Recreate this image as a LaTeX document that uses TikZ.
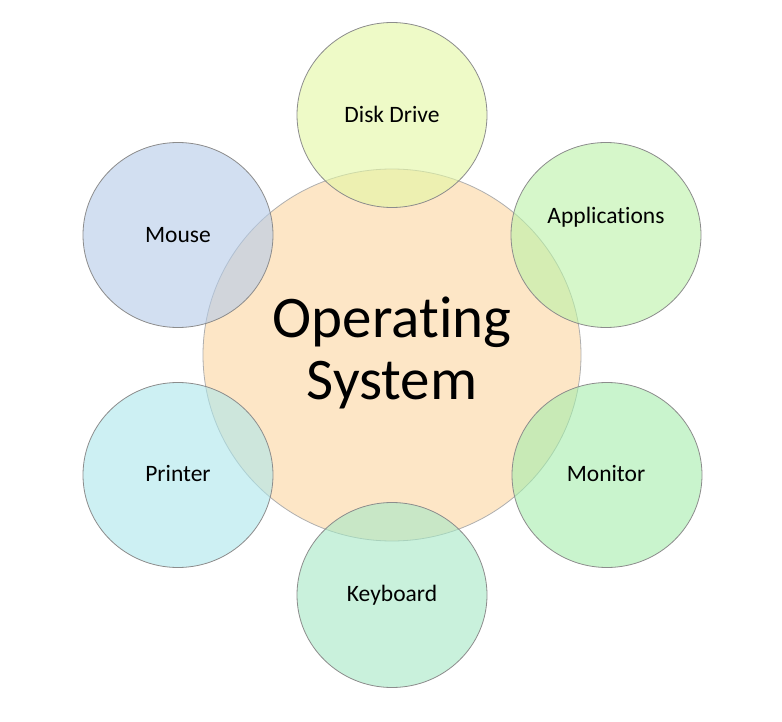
\documentclass[tikz,border=0pt]{standalone}
\usepackage{fontspec}
\setmainfont{Carlito}[Ligatures=NoCommon]
\usetikzlibrary{shapes.geometric}
\definecolor{osfill}{RGB}{253,230,198}
\definecolor{diskc}{RGB}{227,247,163}
\definecolor{appc}{RGB}{187,243,167}
\definecolor{monc}{RGB}{165,238,172}
\definecolor{keyc}{RGB}{165,233,198}
\definecolor{prnc}{RGB}{173,230,235}
\definecolor{mouc}{RGB}{180,203,233}
\definecolor{rimc}{RGB}{140,140,140}
\tikzset{
  sat/.style={ellipse, draw=rimc, line width=0.8pt, fill opacity=0.6, text opacity=1,
    minimum width=190pt, minimum height=185pt, inner sep=0pt},
  core/.style={ellipse, draw=rimc!70, line width=0.8pt, fill=osfill,
    minimum width=378pt, minimum height=372pt, inner sep=0pt},
  smalltxt/.style={font=\fontsize{23.5}{28}\selectfont, text=black},
  bigtxt/.style={font=\fontsize{59}{62}\selectfont, align=center, text=black}
}
\begin{document}
\begin{tikzpicture}[x=1pt,y=-1pt]
\useasboundingbox (0,0) rectangle (782,722);
\fill[white] (0,0) rectangle (782,722);
\node[core] (os) at (392,355) {};
\node[sat, fill=diskc] (disk) at (392,115) {};
\node[sat, fill=appc] (app) at (606,235) {};
\node[sat, fill=monc] (mon) at (607,475) {};
\node[sat, fill=keyc] (key) at (392,595) {};
\node[sat, fill=prnc] (prn) at (178,475) {};
\node[sat, fill=mouc] (mou) at (178,235) {};
\node[bigtxt] (osT) at (392,353) {Operating\\System};
\node[smalltxt] (diskT) at (392,114) {Disk Drive};
\node[smalltxt] (appT) at (606,217) {Applications};
\node[smalltxt] (monT) at (606,474) {Monitor};
\node[smalltxt] (keyT) at (392,595) {Keyboard};
\node[smalltxt] (prnT) at (178,474) {Printer};
\node[smalltxt] (mouT) at (178,235) {Mouse};
\end{tikzpicture}
\end{document}
